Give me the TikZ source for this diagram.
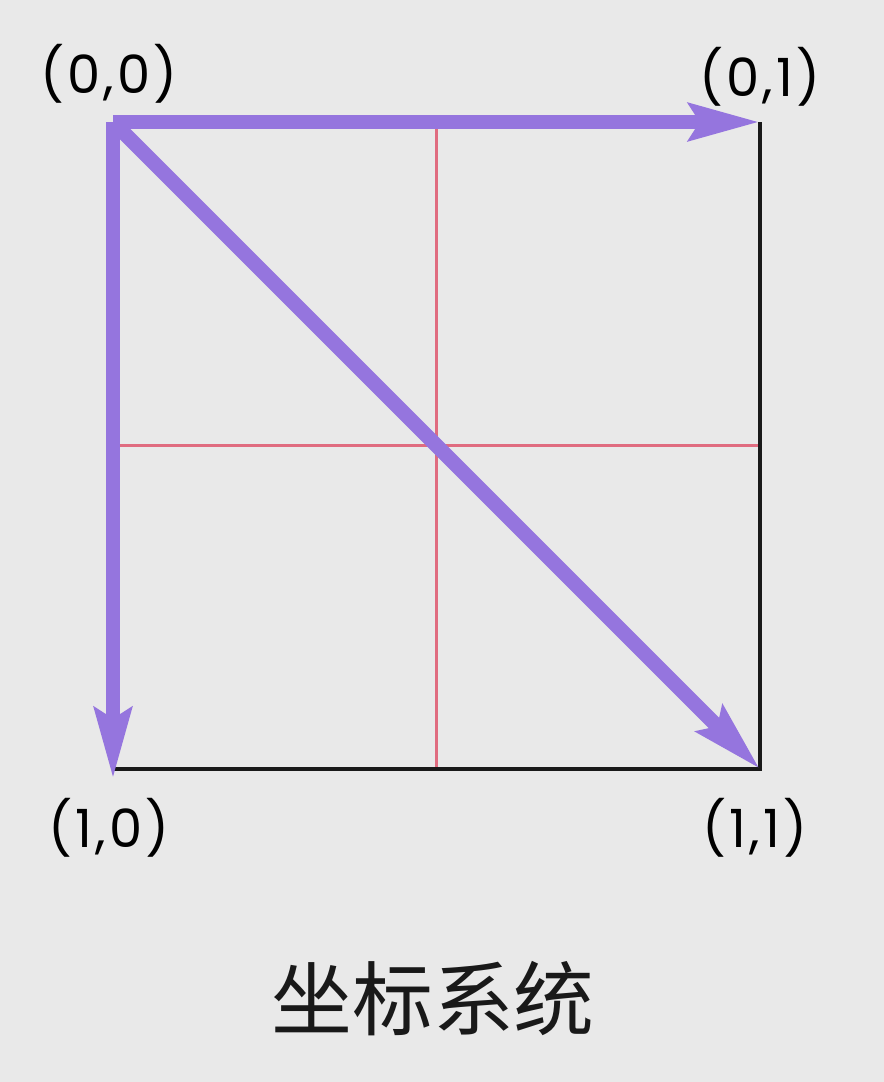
\documentclass[tikz,border=0pt]{standalone}
\usepackage{fontspec}
\setmainfont{Poppins}
\newfontfamily\cjk{Noto Sans CJK SC}
\usetikzlibrary{arrows.meta}
\definecolor{canvas}{HTML}{E9E9E9}
\definecolor{violet}{HTML}{9575DE}
\definecolor{guide}{HTML}{E06C80}

\begin{document}
\begin{tikzpicture}[
    >={Stealth[length=7mm,width=3.6mm,inset=1mm]},
    lab/.style={font=\fontsize{15}{17}\selectfont\addfontfeature{LetterSpace=6}, text=black, inner sep=0pt},
    title/.style={font=\cjk\fontsize{23}{26}\selectfont, text=black!90, inner sep=0pt},
    frame/.style={draw=black!90, line width=0.9pt},
    guideline/.style={draw=guide, line width=0.6pt},
    axis/.style={->, draw=violet, line width=4.2pt},
  ]
    % --- canvas -------------------------------------------------------------
    \fill[canvas] (0,0) rectangle (8.84,-10.82);
    \useasboundingbox (0,0) rectangle (8.84,-10.82);
    % --- corners ------------------------------------------------------------
    \coordinate (tl) at (1.13,-1.22);
    \coordinate (tr) at (7.60,-1.22);
    \coordinate (bl) at (1.13,-7.69);
    \coordinate (br) at (7.60,-7.69);
    \coordinate (tm) at (4.365,-1.22);
    \coordinate (bm) at (4.365,-7.69);
    \coordinate (lm) at (1.13,-4.455);
    \coordinate (rm) at (7.60,-4.455);
    % --- guides -------------------------------------------------------------
    \draw[guideline] (tm) -- (bm);
    \draw[guideline] (lm) -- (rm);
    % --- frame --------------------------------------------------------------
    \draw[frame] (tr) -- (br) -- (bl);
    % --- axes ---------------------------------------------------------------
    \draw[axis] (tl) -- (tr);
    \draw[axis] (tl) -- ([yshift=-1mm]bl);
    \draw[axis] (tl) -- (br);
    % --- labels -------------------------------------------------------------
    \node[lab] (l00) at (1.09,-0.74) {(0,0)};
    \node[lab] (l01) at (7.60,-0.77) {(0,1)};
    \node[lab] (l10) at (1.09,-8.28) {(1,0)};
    \node[lab] (l11) at (7.55,-8.28) {(1,1)};
    \node[title] (cap) at (4.33,-9.99) {坐标系统};
\end{tikzpicture}
\end{document}
